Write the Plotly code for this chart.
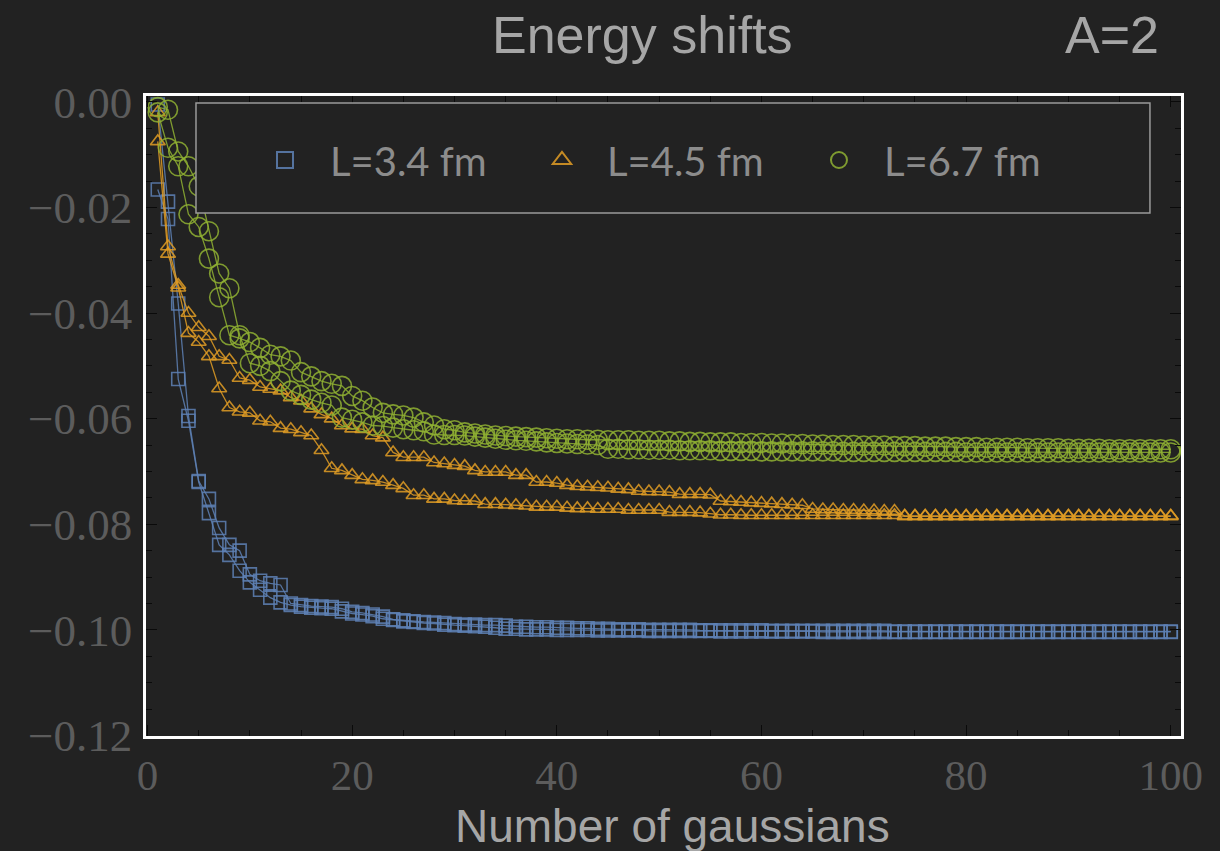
import plotly.graph_objects as go

# Number of gaussians in the basis
n_gauss = list(range(1, 101))

# Energy shifts for L = 3.4 fm (two basis-selection runs)
shift_L34_a = [
    -0.0166, -0.0222, -0.0525, -0.0604, -0.0720, -0.0779, -0.0839, -0.0858, -0.0888, -0.0910,
    -0.0924, -0.0939, -0.0948, -0.0953, -0.0956, -0.0958, -0.0959, -0.0960, -0.0965, -0.0969,
    -0.0971, -0.0974, -0.0979, -0.0981, -0.0984, -0.0985, -0.0987, -0.0988, -0.0990, -0.0991,
    -0.0992, -0.0993, -0.0994, -0.0996, -0.0998, -0.0998, -0.0999, -0.0999, -0.0999, -0.1000,
    -0.1000, -0.1000, -0.1000, -0.1001, -0.1001, -0.1001, -0.1001, -0.1001, -0.1002, -0.1002,
    -0.1002, -0.1002, -0.1002, -0.1002, -0.1002, -0.1003, -0.1003, -0.1003, -0.1003, -0.1003,
    -0.1003, -0.1003, -0.1003, -0.1003, -0.1003, -0.1004, -0.1004, -0.1004, -0.1004, -0.1004,
    -0.1004, -0.1004, -0.1004, -0.1004, -0.1004, -0.1004, -0.1004, -0.1004, -0.1004, -0.1004,
    -0.1004, -0.1004, -0.1004, -0.1004, -0.1004, -0.1004, -0.1004, -0.1004, -0.1004, -0.1004,
    -0.1004, -0.1004, -0.1004, -0.1004, -0.1004, -0.1004, -0.1004, -0.1004, -0.1004, -0.1004,
]
shift_L34_b = [
    -0.0005, -0.0189, -0.0382, -0.0595, -0.0718, -0.0752, -0.0807, -0.0839, -0.0850, -0.0895,
    -0.0907, -0.0912, -0.0915, -0.0950, -0.0953, -0.0955, -0.0956, -0.0957, -0.0960, -0.0966,
    -0.0968, -0.0971, -0.0975, -0.0980, -0.0982, -0.0984, -0.0985, -0.0986, -0.0987, -0.0989,
    -0.0990, -0.0990, -0.0991, -0.0991, -0.0992, -0.0994, -0.0994, -0.0995, -0.0995, -0.0996,
    -0.0996, -0.0997, -0.0997, -0.0998, -0.0998, -0.0999, -0.0999, -0.0999, -0.1000, -0.1000,
    -0.1000, -0.1000, -0.1000, -0.1001, -0.1001, -0.1001, -0.1001, -0.1001, -0.1001, -0.1001,
    -0.1002, -0.1002, -0.1002, -0.1002, -0.1002, -0.1002, -0.1002, -0.1002, -0.1002, -0.1002,
    -0.1002, -0.1002, -0.1003, -0.1003, -0.1003, -0.1003, -0.1003, -0.1003, -0.1003, -0.1003,
    -0.1003, -0.1003, -0.1003, -0.1003, -0.1003, -0.1003, -0.1003, -0.1003, -0.1003, -0.1003,
    -0.1003, -0.1003, -0.1003, -0.1003, -0.1003, -0.1003, -0.1003, -0.1003, -0.1003, -0.1003,
]

# Energy shifts for L = 4.5 fm
shift_L45_a = [
    -0.0020, -0.0274, -0.0347, -0.0400, -0.0427, -0.0444, -0.0482, -0.0489, -0.0523, -0.0527,
    -0.0540, -0.0544, -0.0547, -0.0560, -0.0566, -0.0581, -0.0592, -0.0600, -0.0613, -0.0619,
    -0.0620, -0.0632, -0.0636, -0.0664, -0.0673, -0.0673, -0.0673, -0.0683, -0.0685, -0.0688,
    -0.0690, -0.0698, -0.0701, -0.0701, -0.0701, -0.0707, -0.0707, -0.0720, -0.0720, -0.0722,
    -0.0726, -0.0728, -0.0729, -0.0730, -0.0731, -0.0733, -0.0734, -0.0737, -0.0738, -0.0738,
    -0.0739, -0.0743, -0.0743, -0.0743, -0.0744, -0.0756, -0.0757, -0.0758, -0.0759, -0.0760,
    -0.0761, -0.0762, -0.0763, -0.0764, -0.0771, -0.0772, -0.0772, -0.0773, -0.0773, -0.0774,
    -0.0774, -0.0775, -0.0775, -0.0784, -0.0784, -0.0784, -0.0784, -0.0784, -0.0784, -0.0784,
    -0.0784, -0.0784, -0.0784, -0.0784, -0.0784, -0.0784, -0.0784, -0.0784, -0.0784, -0.0784,
    -0.0784, -0.0784, -0.0784, -0.0784, -0.0784, -0.0784, -0.0784, -0.0784, -0.0784, -0.0784,
]
shift_L45_b = [
    -0.0075, -0.0288, -0.0352, -0.0438, -0.0455, -0.0482, -0.0543, -0.0579, -0.0587, -0.0589,
    -0.0604, -0.0606, -0.0618, -0.0620, -0.0626, -0.0632, -0.0660, -0.0694, -0.0698, -0.0707,
    -0.0715, -0.0717, -0.0720, -0.0726, -0.0732, -0.0745, -0.0745, -0.0752, -0.0752, -0.0755,
    -0.0756, -0.0756, -0.0762, -0.0762, -0.0763, -0.0764, -0.0765, -0.0767, -0.0767, -0.0767,
    -0.0769, -0.0770, -0.0770, -0.0771, -0.0771, -0.0771, -0.0773, -0.0773, -0.0773, -0.0773,
    -0.0777, -0.0777, -0.0777, -0.0778, -0.0780, -0.0782, -0.0782, -0.0783, -0.0783, -0.0783,
    -0.0783, -0.0783, -0.0783, -0.0783, -0.0783, -0.0783, -0.0783, -0.0783, -0.0783, -0.0783,
    -0.0783, -0.0783, -0.0783, -0.0785, -0.0785, -0.0785, -0.0785, -0.0785, -0.0785, -0.0785,
    -0.0785, -0.0785, -0.0785, -0.0785, -0.0785, -0.0785, -0.0785, -0.0785, -0.0785, -0.0785,
    -0.0785, -0.0785, -0.0785, -0.0785, -0.0785, -0.0785, -0.0785, -0.0785, -0.0785, -0.0785,
]

# Energy shifts for L = 6.7 fm
shift_L67_a = [
    -0.0020, -0.0087, -0.0122, -0.0213, -0.0237, -0.0297, -0.0370, -0.0442, -0.0448, -0.0455,
    -0.0466, -0.0479, -0.0482, -0.0490, -0.0512, -0.0520, -0.0529, -0.0534, -0.0538, -0.0557,
    -0.0566, -0.0579, -0.0589, -0.0592, -0.0594, -0.0598, -0.0607, -0.0613, -0.0620, -0.0622,
    -0.0626, -0.0628, -0.0630, -0.0632, -0.0633, -0.0634, -0.0635, -0.0636, -0.0637, -0.0638,
    -0.0639, -0.0639, -0.0640, -0.0640, -0.0641, -0.0641, -0.0641, -0.0642, -0.0642, -0.0642,
    -0.0643, -0.0643, -0.0644, -0.0644, -0.0645, -0.0645, -0.0645, -0.0646, -0.0646, -0.0646,
    -0.0647, -0.0647, -0.0648, -0.0648, -0.0649, -0.0649, -0.0650, -0.0650, -0.0650, -0.0651,
    -0.0651, -0.0651, -0.0652, -0.0652, -0.0652, -0.0653, -0.0653, -0.0653, -0.0654, -0.0654,
    -0.0654, -0.0655, -0.0655, -0.0655, -0.0655, -0.0656, -0.0656, -0.0656, -0.0656, -0.0657,
    -0.0657, -0.0657, -0.0657, -0.0658, -0.0658, -0.0658, -0.0658, -0.0658, -0.0658, -0.0658,
]
shift_L67_b = [
    -0.0010, -0.0015, -0.0094, -0.0122, -0.0160, -0.0245, -0.0325, -0.0353, -0.0442, -0.0495,
    -0.0500, -0.0510, -0.0529, -0.0547, -0.0555, -0.0564, -0.0570, -0.0575, -0.0598, -0.0602,
    -0.0607, -0.0613, -0.0614, -0.0617, -0.0620, -0.0622, -0.0624, -0.0630, -0.0631, -0.0631,
    -0.0632, -0.0634, -0.0636, -0.0638, -0.0640, -0.0641, -0.0642, -0.0643, -0.0645, -0.0646,
    -0.0647, -0.0648, -0.0649, -0.0650, -0.0657, -0.0657, -0.0658, -0.0658, -0.0659, -0.0659,
    -0.0659, -0.0660, -0.0660, -0.0660, -0.0660, -0.0661, -0.0661, -0.0661, -0.0661, -0.0662,
    -0.0662, -0.0662, -0.0662, -0.0662, -0.0662, -0.0662, -0.0662, -0.0663, -0.0663, -0.0663,
    -0.0663, -0.0663, -0.0663, -0.0663, -0.0663, -0.0663, -0.0663, -0.0663, -0.0663, -0.0664,
    -0.0664, -0.0664, -0.0664, -0.0664, -0.0664, -0.0664, -0.0664, -0.0664, -0.0664, -0.0664,
    -0.0664, -0.0664, -0.0664, -0.0664, -0.0664, -0.0664, -0.0664, -0.0664, -0.0664, -0.0664,
]

series = [
    ("L=3.4 fm", "rgba(94,129,181,0.85)", "square-open", 13, [shift_L34_a, shift_L34_b]),
    ("L=4.5 fm", "rgba(225,156,36,0.85)", "triangle-up-open", 13, [shift_L45_a, shift_L45_b]),
    ("L=6.7 fm", "rgba(143,176,50,0.85)", "circle-open", 19, [shift_L67_a, shift_L67_b]),
]

BG = "#222222"
fig = go.Figure()

for name, color, symbol, size, runs in series:
    for run in runs:
        fig.add_trace(go.Scatter(
            x=n_gauss, y=run, mode="lines+markers",
            line=dict(color=color, width=1.3),
            marker=dict(symbol=symbol, size=size, color=color, line=dict(color=color, width=1.6)),
            legendgroup=name, showlegend=False, hoverinfo="skip",
        ))
    # legend entry: marker only
    fig.add_trace(go.Scatter(
        x=[None], y=[None], mode="markers", name=name, legendgroup=name,
        marker=dict(symbol=symbol, size=size + 4, color=color, line=dict(color=color, width=2)),
    ))

axis_common = dict(
    showline=True, linecolor="white", linewidth=2.5, mirror="allticks",
    ticks="inside", ticklen=11, tickwidth=1.3, tickcolor="#0a0a0a",
    showgrid=False, zeroline=False,
)

fig.update_xaxes(
    range=[-0.15, 101.0], tickvals=[0, 20, 40, 60, 80, 100],
    ticktext=["0", "20", "40", "60", "80", "100"],
    minor=dict(ticks="inside", ticklen=6, dtick=5, tick0=0, tickcolor="#0a0a0a", tickwidth=1.2),
    tickfont=dict(family="Liberation Serif", size=43, color="#5c5c5c"),
    ticklabelstandoff=0,
    **axis_common,
)
fig.update_yaxes(
    range=[-0.1201, 0.0011], tickvals=[0, -0.02, -0.04, -0.06, -0.08, -0.10, -0.12],
    ticktext=["0.00", "\u22120.02", "\u22120.04", "\u22120.06", "\u22120.08", "\u22120.10", "\u22120.12"],
    minor=dict(ticks="inside", ticklen=6, dtick=0.005, tick0=0, tickcolor="#0a0a0a", tickwidth=1.2),
    tickfont=dict(family="Liberation Serif", size=45, color="#5c5c5c"),
    ticklabelstandoff=2,
    **axis_common,
)

# legend frame (opaque, drawn over the curves)
fig.add_shape(type="rect", xref="paper", yref="paper",
              x0=0.0483, x1=0.970, y0=0.817, y1=0.989,
              line=dict(color="#9a9a9a", width=1.5), fillcolor=BG, layer="above")

fig.update_layout(
    width=1220, height=851,
    paper_bgcolor=BG, plot_bgcolor=BG,
    margin=dict(l=146, r=39, t=96, b=115),
    showlegend=True,
    legend=dict(
        orientation="h", x=0.0908, xanchor="left", y=0.9, yanchor="middle",
        bgcolor="rgba(0,0,0,0)", borderwidth=0,
        font=dict(family="Lato", size=40, color="#8c8c8c"),
        itemwidth=80, entrywidth=182, entrywidthmode="pixels",
    ),
    annotations=[
        dict(text="Energy shifts", xref="paper", yref="paper", x=0.480, y=1.095,
             xanchor="center", yanchor="middle", showarrow=False,
             font=dict(family="Liberation Sans", size=52, color="#a6a6a6")),
        dict(text="A=2", xref="paper", yref="paper", x=0.933, y=1.095,
             xanchor="center", yanchor="middle", showarrow=False,
             font=dict(family="Liberation Sans", size=52, color="#a6a6a6")),
        dict(text="Number of gaussians", xref="paper", yref="paper", x=0.509, y=-0.141,
             xanchor="center", yanchor="middle", showarrow=False,
             font=dict(family="Liberation Sans", size=46, color="#a6a6a6")),
    ],
)

fig.write_html("out.html")
